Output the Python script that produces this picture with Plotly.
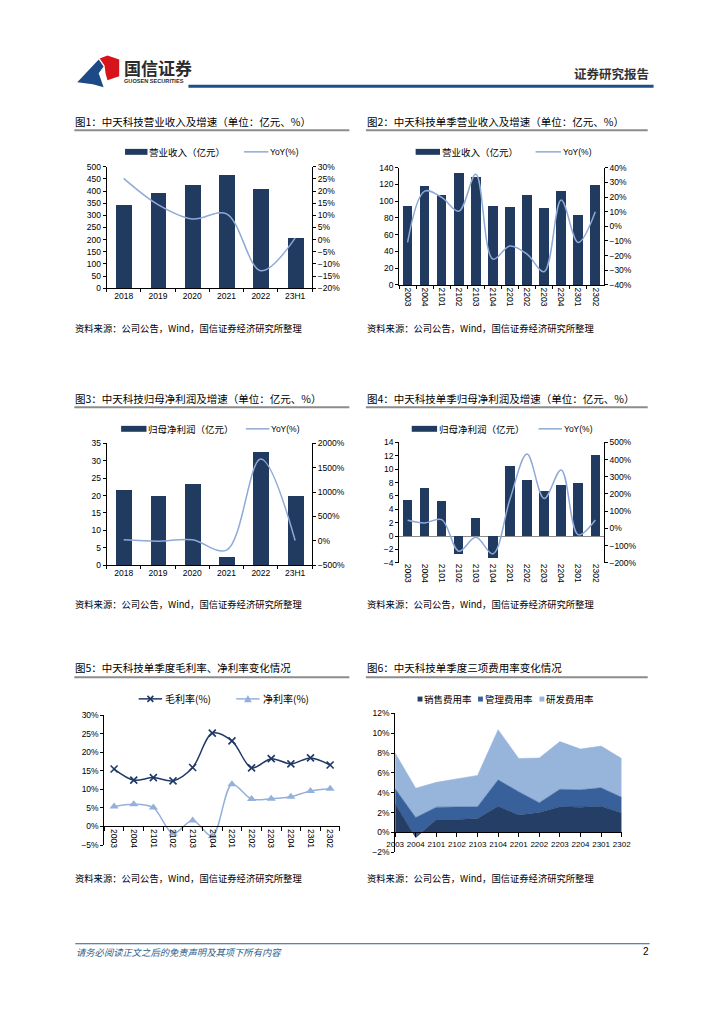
import plotly.graph_objects as go

W, H = 724, 1024
def fx(x): return x / W
def fy(y): return 1 - y / H

# ---------------- data ----------------
years = ["2018", "2019", "2020", "2021", "2022", "23H1"]
quarters = ["2003", "2004", "2101", "2102", "2103", "2104",
            "2201", "2202", "2203", "2204", "2301", "2302"]

rev_annual = [345, 391, 427, 467, 408, 206]
rev_annual_yoy = [25.2, 14.4, 8.5, 10.6, -12.8, 0.6]
rev_q = [95, 118, 107.6, 134.5, 129, 94.6, 93.8, 108, 92.7, 112, 84, 120]
rev_q_yoy = [-11, 24, 19.7, 10.3, 35.5, -22.4, -13.4, -19, -31, 17.9, -11, 10]
np_annual = [21.6, 19.9, 23.1, 2.1, 32.4, 19.8]
np_annual_yoy = [20, -7, 20, -190, 1680, 7]
np_q = [5.3, 7.1, 5.2, -2.7, 2.6, -3.3, 10.4, 8.3, 6.7, 7.6, 7.8, 12.1]
np_q_yoy = [47, 32, 51, -133, -52, -148, 170, 432, 174, 340, -37, 49]
gross_margin = [15.5, 12.5, 13.2, 12.3, 15.9, 25.2, 23.1, 15.8, 18.3, 16.9, 18.5, 16.6]
net_margin = [5.4, 6.0, 5.1, -1.9, 1.6, -2.6, 11.4, 7.4, 7.5, 8.0, 9.6, 10.2]
sales_rate = [2.9, -0.5, 1.3, 1.3, 1.4, 2.65, 1.75, 2.0, 2.6, 2.55, 2.65, 1.95]
admin_rate = [1.5, 2.0, 1.25, 1.25, 1.2, 2.65, 2.35, 1.0, 1.75, 1.75, 1.85, 1.6]
rd_rate = [3.6, 2.95, 2.5, 2.85, 3.15, 5.05, 3.35, 4.5, 4.8, 4.1, 4.2, 3.9]

titles = ["图1：中天科技营业收入及增速（单位：亿元、%）",
          "图2：中天科技单季营业收入及增速（单位：亿元、%）",
          "图3：中天科技归母净利润及增速（单位：亿元、%）",
          "图4：中天科技单季归母净利润及增速（单位：亿元、%）",
          "图5：中天科技单季度毛利率、净利率变化情况",
          "图6：中天科技单季度三项费用率变化情况"]
source = "资料来源：公司公告，Wind，国信证券经济研究所整理"

# ---------------- style ----------------
NAVY = "#213A5F"
LBLUE = "#8EAAD6"
DARK5 = "#1F3864"
NET5 = "#95B1DB"
A1, A2, A3 = "#243E66", "#38609A", "#97B4DB"
FONT_CN = "Noto Sans CJK SC"
FONT_NUM = "Liberation Sans"
TF = dict(size=8.5, family=FONT_NUM, color="#000")

fig = go.Figure()

def bar(x, y, xa, ya, w):
    fig.add_trace(go.Bar(x=x, y=y, xaxis=xa, yaxis=ya, marker=dict(color=NAVY, line=dict(width=0)),
                         width=w, hoverinfo="skip"))

def yoy(x, y, xa, ya):
    fig.add_trace(go.Scatter(x=x, y=y, xaxis=xa, yaxis=ya, mode="lines",
                             line=dict(color=LBLUE, width=1.5, shape="spline", smoothing=1.0),
                             hoverinfo="skip"))

bar(years, rev_annual, "x", "y", 0.46)
yoy(years, rev_annual_yoy, "x", "y7")
bar(quarters, rev_q, "x2", "y2", 0.56)
yoy(quarters, rev_q_yoy, "x2", "y8")
bar(years, np_annual, "x3", "y3", 0.46)
yoy(years, np_annual_yoy, "x3", "y9")
bar(quarters, np_q, "x4", "y4", 0.55)
yoy(quarters, np_q_yoy, "x4", "y10")

fig.add_trace(go.Scatter(x=quarters, y=gross_margin, xaxis="x5", yaxis="y5", mode="lines+markers",
                         line=dict(color=DARK5, width=1.5, shape="spline", smoothing=0.9),
                         marker=dict(symbol="x-thin", size=7, line=dict(width=1.6, color=DARK5)),
                         hoverinfo="skip"))
fig.add_trace(go.Scatter(x=quarters, y=net_margin, xaxis="x5", yaxis="y5", mode="lines+markers",
                         line=dict(color=NET5, width=1.5, shape="spline", smoothing=0.9),
                         marker=dict(symbol="triangle-up", size=8, color=NET5),
                         hoverinfo="skip"))

for vals, col in [(sales_rate, A1), (admin_rate, A2), (rd_rate, A3)]:
    fig.add_trace(go.Scatter(x=quarters, y=vals, xaxis="x6", yaxis="y6", mode="lines",
                             stackgroup="one", fillcolor=col, line=dict(color=col, width=0.5),
                             hoverinfo="skip"))

# ---------------- axes ----------------
def xcat(d0, d1, anchor, **kw):
    d = dict(domain=[fx(d0), fx(d1)], anchor=anchor, type="category", showline=True,
             linecolor="#000", linewidth=0.8, ticks="outside", ticklen=3, tickcolor="#000",
             tickwidth=0.8, showgrid=False, zeroline=False, tickfont=TF, fixedrange=True)
    d.update(kw)
    return d

def yax(top, bottom, anchor, rng, dtick, suffix="", side="left", **kw):
    d = dict(anchor=anchor, range=rng, dtick=dtick, tick0=0, ticksuffix=suffix, side=side,
             showline=True, linecolor="#000", linewidth=0.8, ticks="outside", ticklen=3,
             tickcolor="#000", tickwidth=0.8, showgrid=False, zeroline=False, tickfont=TF,
             fixedrange=True)
    if top is not None:
        d["domain"] = [fy(bottom), fy(top)]
    d.update(kw)
    return d

layout = dict(
    width=W, height=H, margin=dict(l=0, r=0, t=0, b=0, pad=0), autosize=False,
    paper_bgcolor="white", plot_bgcolor="rgba(0,0,0,0)", showlegend=False,
    bargap=0, font=dict(family=FONT_NUM, size=8.5, color="#000"),
    xaxis=xcat(100, 311, "y", tickson="boundaries", tickangle=0),
    yaxis=yax(163.3, 286, "x", [0, 500], 50),
    yaxis7=yax(None, None, "x", [-20, 30], 5, "%", side="right", overlaying="y"),
    xaxis2=xcat(400, 610, "y2", tickson="boundaries", tickangle=90),
    yaxis2=yax(164.3, 282.7, "x2", [0, 140], 20),
    yaxis8=yax(None, None, "x2", [-40, 40], 10, "%", side="right", overlaying="y2"),
    xaxis3=xcat(100, 311, "y3", tickson="boundaries", tickangle=0),
    yaxis3=yax(442.7, 565.7, "x3", [0, 35], 5),
    yaxis9=yax(None, None, "x3", [-500, 2000], 500, "%", side="right", overlaying="y3"),
    xaxis4=xcat(400, 610, "y4", showline=False, ticks="", tickangle=90),
    yaxis4=yax(441.7, 563.3, "x4", [-4, 14], 2, zeroline=True, zerolinecolor="#8C8C8C",
               zerolinewidth=1),
    yaxis10=yax(None, None, "x4", [-200, 500], 100, "%", side="right", overlaying="y4"),
    xaxis5=xcat(97.7, 339.4, "free", position=fy(829.6), tickson="boundaries", tickangle=90,
                range=[-0.5, 11.5], ticklen=4),
    yaxis5=yax(717.3, 848.3, "x5", [-5, 30], 5, "%"),
    xaxis6=xcat(396, 628.3, "free", position=fy(835.6), range=[0, 11], ticklen=4,
                tickangle=0, tickfont=dict(size=8, family=FONT_NUM, color="#000")),
    yaxis6=yax(715.3, 855.7, "x6", [-2, 12], 2, "%"),
)
fig.update_layout(**layout)

# ---------------- page decoration ----------------
shapes = []
ann = []

def line(x0, y0, x1, y1, color, width):
    shapes.append(dict(type="line", xref="paper", yref="paper", x0=fx(x0), y0=fy(y0),
                       x1=fx(x1), y1=fy(y1), line=dict(color=color, width=width)))

def rect(x0, y0, x1, y1, color):
    shapes.append(dict(type="rect", xref="paper", yref="paper", x0=fx(x0), y0=fy(y0),
                       x1=fx(x1), y1=fy(y1), fillcolor=color, line=dict(width=0)))

def poly(pts, color):
    p = "M " + " L ".join(f"{fx(a):.5f},{fy(b):.5f}" for a, b in pts) + " Z"
    shapes.append(dict(type="path", xref="paper", yref="paper", path=p, fillcolor=color,
                       line=dict(width=0)))

def text(x, y, s, size, anchor="left", color="#000", family=FONT_CN):
    ann.append(dict(x=fx(x), y=fy(y), xref="paper", yref="paper", text=s, showarrow=False,
                    xanchor=anchor, yanchor="middle", borderpad=0,
                    font=dict(size=size, color=color, family=family)))

# header
poly([(70, 78), (92, 55), (97, 62), (92, 69), (97, 83), (86, 80)], "#1B4A86")
poly([(93, 54), (101, 51), (113, 55), (113, 72), (101, 76), (99, 69), (98, 61)], "#D7141A")
text(117, 63, "<b>国信证券</b>", 17, color="#2B2B2B")
text(117, 77, "<b>GUOSEN SECURITIES</b>", 5.6, color="#2B2B2B", family=FONT_NUM)
text(657, 69, "<b>证券研究报告</b>", 12.5, anchor="right", color="#333")
line(184, 82, 661, 82, "#1E4D8C", 3)

# titles, underlines, sources
tpos = [(68, 117.5, 126.5, 349), (367, 117.5, 126.5, 655),
        (68, 397.5, 406.3, 349), (367, 397.5, 406.3, 655),
        (68, 669, 679, 349), (367, 669, 679, 655)]
for (x, ty, uy, x1), t in zip(tpos, titles):
    text(x - 1, ty, t, 10.5)
    line(x - 1, uy, x1, uy, "#8C8C8C", 2)
for x, y in [(68, 326), (367, 326), (68, 605), (367, 605), (68, 882), (367, 882)]:
    text(x - 1, y, source, 9.3)

# legends charts 1-4
for (bx0, bx1, by, lab, lx0, lx1) in [
        (119, 142, 148.3, "营业收入（亿元）", 241, 266),
        (417, 442, 148.3, "营业收入（亿元）", 540, 566),
        (115, 141, 428, "归母净利润（亿元）", 243, 267),
        (413, 439, 428, "归母净利润（亿元）", 543, 567)]:
    rect(bx0, by - 3, bx1, by + 3, NAVY)
    text(bx1 + 1, by, lab, 9.5)
    line(lx0, by, lx1, by, LBLUE, 1.5)
    text(lx1 + 1, by, "YoY(%)", 8.5, family=FONT_NUM)

# legend chart 5
ly = 700.7
line(133, ly, 157, ly, DARK5, 1.5)
line(142, ly - 3, 148, ly + 3, DARK5, 1.6)
line(142, ly + 3, 148, ly - 3, DARK5, 1.6)
text(159, ly, "毛利率(%)", 10)
line(233, ly, 257, ly, NET5, 1.5)
poly([(241, ly + 3.5), (249, ly + 3.5), (245, ly - 4)], NET5)
text(259, ly, "净利率(%)", 10)

# legend chart 6
for x0, lab, col in [(419, "销售费用率", A1), (481, "管理费用率", A2), (544, "研发费用率", A3)]:
    rect(x0, 698.4, x0 + 5, 703.4, col)
    text(x0 + 6, 701, lab, 9.5)

# footer
line(68, 948, 657, 948, "#2E5C8A", 1)
text(68, 956, "<i>请务必阅读正文之后的免责声明及其项下所有内容</i>", 9.3, color="#2E5C8A")
text(657, 956, "2", 10, anchor="right", family=FONT_NUM)

fig.update_layout(shapes=shapes, annotations=ann)

fig.write_html("out.html", config={"displayModeBar": False},
               post_script="document.body.style.margin='0';document.body.style.overflow='hidden';")
